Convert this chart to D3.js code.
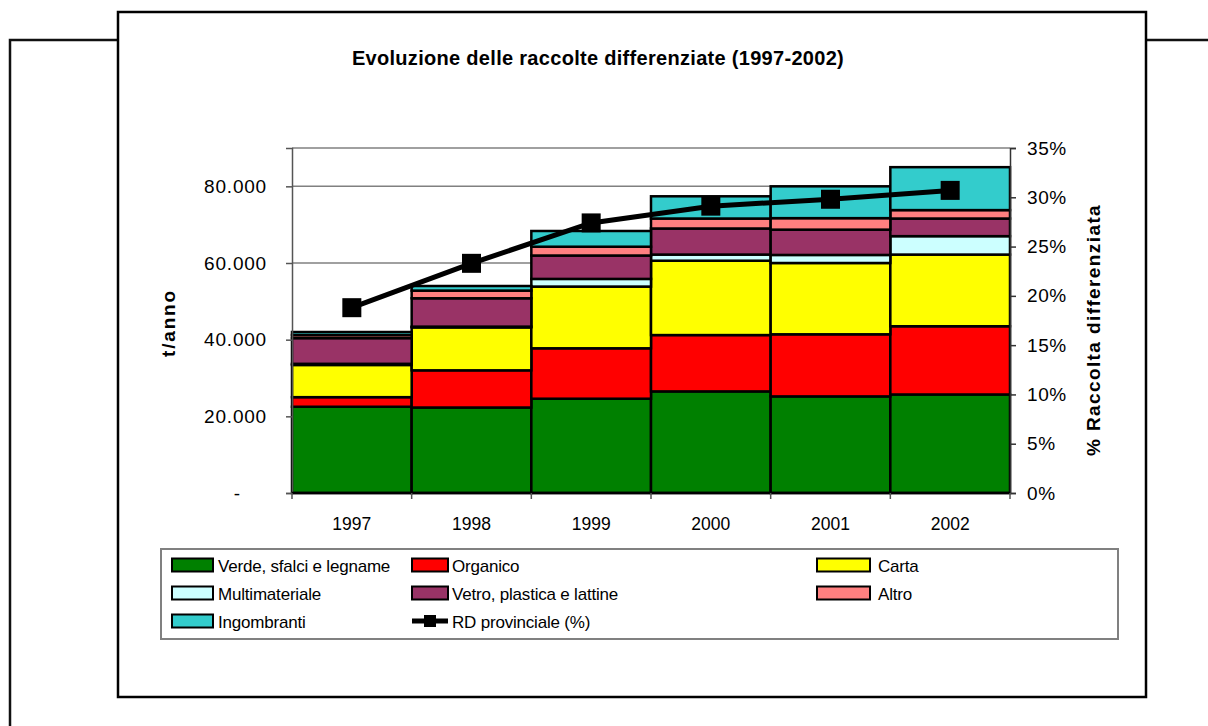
<!DOCTYPE html>
<html>
<head>
<meta charset="utf-8">
<script src="https://cdn.jsdelivr.net/npm/d3@7"></script>
<style>
    html, body { margin: 0; padding: 0; background: #fff; }
    svg { display: block; font-family: "Liberation Sans", Arial, sans-serif; }
</style>
</head>
<body>
<svg id="chart" width="1208" height="726"></svg>
<script>
// Categories (years)
const YEARS = ["1997", "1998", "1999", "2000", "2001", "2002"];

// Stacked series, tonnes per year (bottom -> top)
const VERDE = [22500, 22300, 24600, 26500, 25200, 25700];
const ORGANICO = [2500, 9700, 13150, 14700, 16200, 17800];
const CARTA = [8400, 11200, 16100, 19400, 18600, 18700];
const MULTIMATERIALE = [300, 200, 2000, 1600, 2100, 4800];
const VETRO = [6700, 7400, 6100, 6800, 6600, 4600];
const ALTRO = [800, 2000, 2300, 2600, 3000, 2200];
const INGOMBRANTI = [800, 1200, 4100, 5800, 8300, 11200];

// Line series: RD provinciale (%)
const RD_PCT = [0.188, 0.233, 0.274, 0.291, 0.298, 0.307];

// Axis ticks
const LEFT_TICKS = [0, 20000, 40000, 60000, 80000];
const RIGHT_TICKS = [0, 0.05, 0.10, 0.15, 0.20, 0.25, 0.30, 0.35];

const SERIES = [
    { key: "verde", label: "Verde, sfalci e legname", color: "#008000", values: VERDE },
    { key: "organico", label: "Organico", color: "#ff0000", values: ORGANICO },
    { key: "carta", label: "Carta", color: "#ffff00", values: CARTA },
    { key: "multi", label: "Multimateriale", color: "#ccffff", values: MULTIMATERIALE },
    { key: "vetro", label: "Vetro, plastica e lattine", color: "#993366", values: VETRO },
    { key: "altro", label: "Altro", color: "#ff8080", values: ALTRO },
    { key: "ingombranti", label: "Ingombranti", color: "#33cccc", values: INGOMBRANTI }
];

const svg = d3.select("#chart");

// Page border fragments behind the chart
svg.append("path")
    .attr("d", "M10,726 V40 H128 M1134,40 H1208")
    .attr("fill", "none")
    .attr("stroke", "#111")
    .attr("stroke-width", 2.5);

// Chart frame
svg.append("rect")
    .attr("x", 118).attr("y", 12)
    .attr("width", 1028).attr("height", 685)
    .attr("fill", "#fff")
    .attr("stroke", "#000")
    .attr("stroke-width", 2.5);

// Title
svg.append("text")
    .attr("x", 598).attr("y", 65)
    .attr("text-anchor", "middle")
    .attr("font-size", 20)
    .attr("font-weight", "bold")
    .attr("letter-spacing", 0.3)
    .text("Evoluzione delle raccolte differenziate (1997-2002)");

// Plot area
const plot = { left: 292, right: 1010, top: 148, bottom: 493 };

const x = d3.scaleBand()
    .domain(YEARS)
    .range([plot.left, plot.right])
    .padding(0);

const yLeft = d3.scaleLinear()
    .domain([0, 90000])
    .range([plot.bottom, plot.top]);

const yRight = d3.scaleLinear()
    .domain([0, 0.35])
    .range([plot.bottom, plot.top]);

// Italian-style thousands separator
const itLocale = d3.formatLocale({ decimal: ",", thousands: ".", grouping: [3], currency: ["", ""] });
const fmtThousands = itLocale.format(",.0f");

// Gridlines + top border of plot area
const grid = svg.append("g").attr("class", "grid");
grid.selectAll("line")
    .data(LEFT_TICKS.slice(1).concat([90000]))
    .enter()
    .append("line")
    .attr("x1", plot.left).attr("x2", plot.right)
    .attr("y1", d => yLeft(d)).attr("y2", d => yLeft(d))
    .attr("stroke", "#808080")
    .attr("stroke-width", 1.5);

// Stacked bars
const stackData = YEARS.map((year, i) => {
    const row = { year };
    SERIES.forEach(s => { row[s.key] = s.values[i]; });
    return row;
});
const stacked = d3.stack().keys(SERIES.map(s => s.key))(stackData);

const bars = svg.append("g").attr("class", "bars");
bars.selectAll("g")
    .data(stacked)
    .enter()
    .append("g")
    .attr("fill", (d, i) => SERIES[i].color)
    .selectAll("rect")
    .data(d => d)
    .enter()
    .append("rect")
    .attr("x", d => x(d.data.year))
    .attr("width", x.bandwidth())
    .attr("y", d => yLeft(d[1]))
    .attr("height", d => yLeft(d[0]) - yLeft(d[1]))
    .attr("stroke", "#000")
    .attr("stroke-width", 2.5);

// Left axis
const leftAxis = svg.append("g")
    .attr("transform", `translate(${plot.left},0)`)
    .call(d3.axisLeft(yLeft)
        .tickValues(LEFT_TICKS)
        .tickSize(6)
        .tickPadding(19)
        .tickFormat(d => d === 0 ? "-" : fmtThousands(d)));
leftAxis.select(".domain").attr("stroke", "#555").attr("stroke-width", 1.5);
leftAxis.selectAll(".tick line").attr("stroke", "#555").attr("stroke-width", 1.5);
leftAxis.selectAll(".tick text")
    .attr("font-size", 19)
    .attr("letter-spacing", 0.8)
    .attr("font-family", "Liberation Sans, Arial, sans-serif")
    .attr("fill", "#000")
    .filter(d => d === 0)
    .attr("x", -51);

// Right axis
const rightAxis = svg.append("g")
    .attr("transform", `translate(${plot.right},0)`)
    .call(d3.axisRight(yRight)
        .tickValues(RIGHT_TICKS)
        .tickSize(6)
        .tickPadding(11)
        .tickFormat(d3.format(".0%")));
rightAxis.select(".domain").attr("stroke", "#333").attr("stroke-width", 1.5);
rightAxis.selectAll(".tick line").attr("stroke", "#333").attr("stroke-width", 1.5);
rightAxis.selectAll(".tick text")
    .attr("font-size", 19)
    .attr("letter-spacing", 0.6)
    .attr("font-family", "Liberation Sans, Arial, sans-serif")
    .attr("fill", "#000");

// Bottom axis: ticks at category boundaries, labels centered
const bottom = svg.append("g").attr("class", "x-axis");
bottom.append("line")
    .attr("x1", plot.left).attr("x2", plot.right)
    .attr("y1", plot.bottom).attr("y2", plot.bottom)
    .attr("stroke", "#000").attr("stroke-width", 2.5);
bottom.selectAll("line.tick")
    .data(YEARS.map(y => x(y)).concat([plot.right]))
    .enter()
    .append("line")
    .attr("class", "tick")
    .attr("x1", d => d).attr("x2", d => d)
    .attr("y1", plot.bottom).attr("y2", plot.bottom + 6)
    .attr("stroke", "#555").attr("stroke-width", 1.5);
bottom.selectAll("text")
    .data(YEARS)
    .enter()
    .append("text")
    .attr("x", d => x(d) + x.bandwidth() / 2)
    .attr("y", 530)
    .attr("text-anchor", "middle")
    .attr("font-size", 17.5)
    .text(d => d);

// Axis titles
svg.append("text")
    .attr("transform", "translate(175,323) rotate(-90)")
    .attr("text-anchor", "middle")
    .attr("font-size", 19)
    .attr("font-weight", "bold")
    .attr("letter-spacing", 1.8)
    .text("t/anno");
svg.append("text")
    .attr("transform", "translate(1100,330) rotate(-90)")
    .attr("text-anchor", "middle")
    .attr("font-size", 19)
    .attr("font-weight", "bold")
    .attr("letter-spacing", 1.4)
    .text("% Raccolta differenziata");

// RD line with square markers
const lineGen = d3.line()
    .x((d, i) => x(YEARS[i]) + x.bandwidth() / 2)
    .y(d => yRight(d));
svg.append("path")
    .datum(RD_PCT)
    .attr("d", lineGen)
    .attr("fill", "none")
    .attr("stroke", "#000")
    .attr("stroke-width", 5);
svg.append("g")
    .selectAll("rect")
    .data(RD_PCT)
    .enter()
    .append("rect")
    .attr("x", (d, i) => x(YEARS[i]) + x.bandwidth() / 2 - 9.5)
    .attr("y", d => yRight(d) - 9.5)
    .attr("width", 19).attr("height", 19)
    .attr("fill", "#000");

// Legend
const legend = svg.append("g").attr("class", "legend");
legend.append("rect")
    .attr("x", 161).attr("y", 549)
    .attr("width", 957).attr("height", 90)
    .attr("fill", "#fff")
    .attr("stroke", "#808080")
    .attr("stroke-width", 2);

const COLS = [
    { sx: 172, sw: 41, tx: 218 },
    { sx: 412, sw: 36, tx: 452 },
    { sx: 817, sw: 53, tx: 878 }
];
const ROWS = [565, 593, 621];

const legendItems = SERIES.map(s => ({ label: s.label, color: s.color, type: "bar" }))
    .concat([{ label: "RD provinciale (%)", type: "line" }]);

legendItems.forEach((item, i) => {
    const col = COLS[i % 3];
    const cy = ROWS[Math.floor(i / 3)];
    if (item.type === "bar") {
        legend.append("rect")
            .attr("x", col.sx).attr("y", cy - 6.5)
            .attr("width", col.sw).attr("height", 13)
            .attr("fill", item.color)
            .attr("stroke", "#000")
            .attr("stroke-width", 2);
    } else {
        legend.append("line")
            .attr("x1", col.sx).attr("x2", col.sx + col.sw)
            .attr("y1", cy).attr("y2", cy)
            .attr("stroke", "#000").attr("stroke-width", 5);
        legend.append("rect")
            .attr("x", col.sx + col.sw / 2 - 6).attr("y", cy - 6)
            .attr("width", 12).attr("height", 12)
            .attr("fill", "#000");
    }
    legend.append("text")
        .attr("x", col.tx).attr("y", cy + 6.5)
        .attr("font-size", 17)
        .attr("letter-spacing", -0.2)
        .text(item.label);
});
</script>
</body>
</html>
